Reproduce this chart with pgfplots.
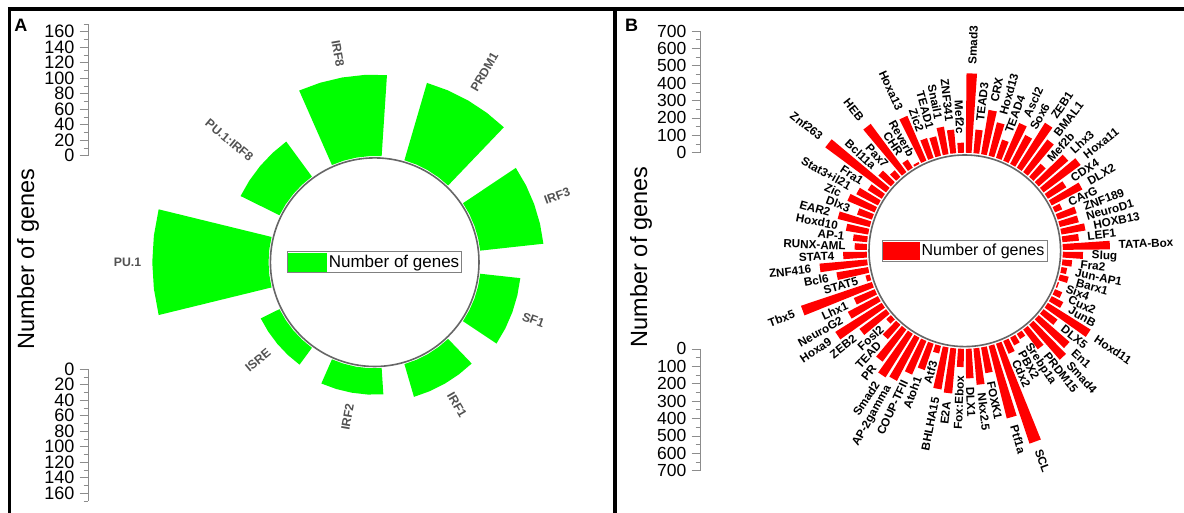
\documentclass[border=0pt]{standalone}
\usepackage{pgfplots}
\pgfplotsset{compat=1.18}
\usepackage{pgfplotstable}
\usepgfplotslibrary{polar}
\usepackage{fontspec}
\setmainfont{Liberation Sans}

\pgfplotstableread[col sep=comma]{
name,val
PU.1,150
PU.1:IRF8,56
IRF8,105
PRDM1,104
IRF3,82
SF1,52
IRF1,44
IRF2,34
ISRE,27
}\dataA

\pgfplotstableread[col sep=comma]{
name,val
Smad3,457
TEAD3,136
CRX,258
Hoxd13,198
TEAD4,111
Ascl2,235
Sox6,188
ZEB1,305
BMAL1,233
Mef2b,100
Lhx3,225
Hoxa11,265
CDX4,125
DLX2,199
CArG,45
ZNF189,115
NeuroD1,112
HOXB13,140
LEF1,95
TATA-Box,271
Slug,116
Fra2,56
Jun-AP1,33
Barx1,52
Six4,8
Cux2,45
JunB,75
Hoxd11,290
DLX5,100
En1,235
Smad4,267
PRDM15,141
Srebp1a,35
PBX2,50
Cdx2,80
SCL,606
Ptf1a,430
FOXK1,150
Nkx2.5,210
DLX1,170
Fox:Ebox,105
E2A,260
BHLHA15,245
Atf3,45
Atoh1,160
COUP-TFII,210
AP-2gamma,280
Smad2,295
PR,230
TEAD,110
Fosl2,35
ZEB2,190
Hoxa9,315
NeuroG2,195
Lhx1,130
Tbx5,430
STAT5,25
Bcl6,185
ZNF416,275
STAT4,136
RUNX-AML,70
AP-1,82
Hoxd10,130
EAR2,190
Dlx3,90
Zic,170
Stat3+il21,140
Fra1,95
Znf263,435
Bcl11a,95
Pax7,50
HEB,345
CHR,55
Reverb,12
Hoxa13,280
Zic2,120
TEAD1,115
Snail1,160
ZNF341,136
Mef2c,58
}\dataB

\pgfplotsset{
  scalestyle/.style={
    scale only axis, width=1pt, xmin=0, xmax=1,
    axis x line=none, axis y line*=left,
    tick align=outside,
    major tick length=8.5pt, minor tick length=4.5pt,
    y axis line style={black!45, line width=0.6pt},
    tick style={black!45, line width=0.6pt},
    /pgf/number format/assume math mode=true,
  },
}
\tikzset{
  lblA/.style={font=\fontsize{12.3}{13}\selectfont\bfseries, text=black!68, inner sep=0pt},
  lblB/.style={font=\fontsize{11.7}{12}\selectfont\bfseries, text=black, inner sep=0pt},
}

\begin{document}
\begin{tikzpicture}[x=1pt,y=1pt]
\useasboundingbox (0,0) rectangle (1184,513);

% frames
\draw[line width=3.3pt] (7.8,504) -- (1184,504);
\draw[line width=3.3pt] (9.5,505.6) -- (9.5,0);
\draw[line width=3.3pt] (615,505.6) -- (615,0);

% panel letters and axis titles
\node[font=\fontsize{18}{18}\selectfont\bfseries] at (20.8,488) {A};
\node[font=\fontsize{18}{18}\selectfont\bfseries] at (631.7,488) {B};
\node[rotate=90, font=\fontsize{23.5}{24}\selectfont] at (28,254) {Number of genes};
\node[rotate=90, font=\fontsize{23.5}{24}\selectfont] at (641,256) {Number of genes};

% ---------------- Panel A ----------------
\draw[black!60, line width=1.6pt] (374.7,250.8) circle [radius=104.3];
\begin{axis}[
  at={(374.7pt,250.8pt)}, anchor=center,
  scale only axis, width=310pt, height=310pt,
  xmin=-200, xmax=200, ymin=-200, ymax=200,
  hide axis, clip=false,
  legend style={at={(0.5,0.5)}, anchor=center, draw=black!50, line width=0.7pt,
    inner xsep=0.5pt, inner ysep=1pt, nodes={inner sep=2pt},
    font=\fontsize{17}{17}\selectfont},
  legend cell align=left,
]
\pgfplotsinvokeforeach{0,...,8}{%
  \pgfplotstablegetelem{#1}{val}\of\dataA \let\myv\pgfplotsretval
  \pgfplotstablegetelem{#1}{name}\of\dataA \let\nm\pgfplotsretval
  \pgfmathsetmacro\ac{180-40*#1}
  \pgfmathsetmacro\myR{137+\myv}
  \pgfmathsetmacro\tA{\ac-13.75}
  \pgfmathsetmacro\tB{\ac-6.9}
  \pgfmathsetmacro\tD{\ac+6.9}
  \pgfmathsetmacro\tE{\ac+13.75}
  \edef\temp{\noexpand\addplot[data cs=polar, fill=green, draw=none, forget plot] coordinates {(\tA,137) (\tA,\myR) (\tB,\myR) (\ac,\myR) (\tD,\myR) (\tE,\myR) (\tE,137) (\tD,137) (\ac,137) (\tB,137)};}\temp
  \pgfmathsetmacro\rl{\myR+14}
  \pgfmathsetmacro\lx{\rl*cos(\ac)}
  \pgfmathsetmacro\ly{\rl*sin(\ac)}
  \pgfmathtruncatemacro\side{cos(\ac)>0}
  \ifnum\side=1
    \edef\temp{\noexpand\node[lblA, anchor=west, rotate=\ac] at (axis cs:\lx,\ly) {\nm};}
  \else
    \pgfmathsetmacro\rot{\ac+180}
    \edef\temp{\noexpand\node[lblA, anchor=east, rotate=\rot] at (axis cs:\lx,\ly) {\nm};}
  \fi
  \temp
}
\addlegendimage{legend image code/.code={\fill[green] (0pt,-9pt) rectangle (38pt,9pt);}}
\addlegendentry{Number of genes}
\end{axis}

% scales A
\begin{axis}[scalestyle, at={(88pt,357.3pt)}, anchor=south west,
  height=131.75pt, ymin=0, ymax=170,
  yticklabel style={font=\fontsize{18}{18}\selectfont, inner sep=0pt, xshift=-5pt},
  ytick={0,20,...,160}, minor ytick={10,30,...,170}]
\addplot[draw=none] coordinates {(0,0)};
\end{axis}
\begin{axis}[scalestyle, at={(88pt,143.7pt)}, anchor=north west, y dir=reverse,
  height=131.75pt, ymin=0, ymax=170,
  yticklabel style={font=\fontsize{18}{18}\selectfont, inner sep=0pt, xshift=-5pt},
  ytick={0,20,...,160}, minor ytick={10,30,...,170}]
\addplot[draw=none] coordinates {(0,0)};
\end{axis}

% ---------------- Panel B ----------------
\draw[black!60, line width=1.6pt] (964.8,262.2) circle [radius=95.8];
\begin{axis}[
  at={(964.8pt,262.2pt)}, anchor=center,
  scale only axis, width=452.1pt, height=452.1pt,
  xmin=-1300, xmax=1300, ymin=-1300, ymax=1300,
  hide axis, clip=false,
  legend style={at={(0.5,0.5)}, anchor=center, draw=black!50, line width=0.7pt,
    inner xsep=0.5pt, inner ysep=1pt, nodes={inner sep=2pt},
    font=\fontsize{16}{16}\selectfont},
  legend cell align=left,
]
\pgfplotsinvokeforeach{0,...,79}{%
  \pgfplotstablegetelem{#1}{val}\of\dataB \let\myv\pgfplotsretval
  \pgfplotstablegetelem{#1}{name}\of\dataB \let\nm\pgfplotsretval
  \pgfmathsetmacro\ac{87.75-4.5*#1}
  \pgfmathsetmacro\tA{\ac-1.7}
  \pgfmathsetmacro\tE{\ac+1.7}
  \pgfmathsetmacro\myR{564+\myv}
  \edef\temp{\noexpand\addplot[data cs=polar, fill=red, draw=none, forget plot] coordinates {(\tA,564) (\tA,\myR) (\tE,\myR) (\tE,564)};}\temp
  \pgfmathsetmacro\rl{\myR+50}
  \pgfmathsetmacro\lx{\rl*cos(\ac)}
  \pgfmathsetmacro\ly{\rl*sin(\ac)}
  \pgfmathtruncatemacro\side{cos(\ac)>0}
  \ifnum\side=1
    \edef\temp{\noexpand\node[lblB, anchor=west, rotate=\ac] at (axis cs:\lx,\ly) {\nm};}
  \else
    \pgfmathsetmacro\rot{\ac+180}
    \edef\temp{\noexpand\node[lblB, anchor=east, rotate=\rot] at (axis cs:\lx,\ly) {\nm};}
  \fi
  \temp
}
\addlegendimage{legend image code/.code={\fill[red] (0pt,-8.8pt) rectangle (35.7pt,8.8pt);}}
\addlegendentry{Number of genes}
\end{axis}

% scales B
\begin{axis}[scalestyle, at={(700pt,360.3pt)}, anchor=south west,
  height=121.7pt, ymin=0, ymax=700,
  yticklabel style={font=\fontsize{17.5}{17.5}\selectfont, inner sep=0pt, xshift=-5pt},
  ytick={0,100,...,700}, minor ytick={50,150,...,650}]
\addplot[draw=none] coordinates {(0,0)};
\end{axis}
\begin{axis}[scalestyle, at={(700pt,164.1pt)}, anchor=north west, y dir=reverse,
  height=121.7pt, ymin=0, ymax=700,
  yticklabel style={font=\fontsize{17.5}{17.5}\selectfont, inner sep=0pt, xshift=-5pt},
  ytick={0,100,...,700}, minor ytick={50,150,...,650}]
\addplot[draw=none] coordinates {(0,0)};
\end{axis}

\end{tikzpicture}
\end{document}
